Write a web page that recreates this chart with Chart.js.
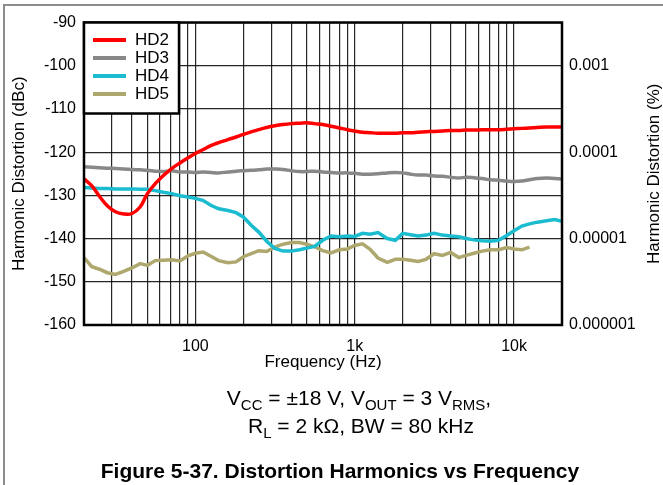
<!DOCTYPE html>
<html>
<head>
<meta charset="utf-8">
<script src="https://cdn.jsdelivr.net/npm/chart.js@4.4.1/dist/chart.umd.min.js"></script>
<style>
  body { margin: 0; background: #fff; }
  canvas { position: absolute; left: 0; top: 0; }
</style>
</head>
<body>
<canvas id="grafico" width="663" height="485"></canvas>
<script>
// frequency grid (Hz), 1/20 decade steps
const freqs = [20, 22.4, 25, 28, 31.5, 35.5, 40, 45, 50, 56,
  63, 71, 80, 90, 100, 112, 125, 140, 160, 180,
  200, 224, 250, 280, 315, 355, 400, 450, 500, 560,
  630, 710, 800, 900, 1000, 1120, 1250, 1400, 1600, 1800,
  2000, 2240, 2500, 2800, 3150, 3550, 4000, 4500, 5000, 5600,
  6300, 7100, 8000, 9000, 10000, 11200, 12500, 14000, 16000, 18000,
  20000];

const hd2 = [-126.2, -127.8, -130.2, -132.4, -133.8, -134.3, -134.2, -132.7, -129.6, -127.3,
  -125.4, -123.8, -122.5, -121.3, -120.3, -119.4, -118.5, -117.8, -117.1, -116.5,
  -115.9, -115.3, -114.8, -114.3, -113.9, -113.6, -113.4, -113.3, -113.2, -113.4,
  -113.6, -114.0, -114.4, -114.8, -115.1, -115.4, -115.5, -115.6, -115.6, -115.6,
  -115.5, -115.5, -115.4, -115.3, -115.2, -115.1, -115.0, -115.0, -114.9, -114.9,
  -114.8, -114.8, -114.8, -114.7, -114.6, -114.5, -114.4, -114.3, -114.2, -114.2,
  -114.2];

const hd3 = [-123.4, -123.5, -123.6, -123.7, -123.8, -123.9, -124.0, -124.1, -124.2, -124.4,
  -124.5, -124.3, -124.6, -124.6, -124.7, -124.6, -124.7, -124.8, -124.6, -124.4,
  -124.3, -124.2, -124.1, -123.9, -123.9, -124.0, -124.3, -124.5, -124.5, -124.4,
  -124.6, -124.7, -124.8, -124.8, -124.9, -125.1, -125.1, -125.0, -124.8, -124.7,
  -124.8, -125.1, -125.3, -125.3, -125.5, -125.6, -125.8, -126.0, -125.8, -125.9,
  -126.1, -126.4, -126.5, -126.7, -126.8, -126.7, -126.4, -126.1, -126.0, -126.1,
  -126.2];

const hd4 = [-128.2, -128.3, -128.4, -128.4, -128.5, -128.5, -128.5, -128.6, -128.6, -128.9,
  -129.3, -129.6, -130.1, -130.4, -130.7, -131.2, -132.3, -133.1, -133.5, -134.0,
  -135.0, -136.9, -138.5, -140.6, -142.3, -142.9, -142.9, -142.6, -142.2, -141.8,
  -140.4, -139.4, -139.6, -139.4, -139.5, -138.8, -139.0, -138.6, -140.0, -140.4,
  -138.8, -139.1, -139.4, -139.2, -138.8, -139.2, -139.4, -139.6, -140.0, -140.3,
  -140.5, -140.6, -140.4, -139.3, -138.2, -137.1, -136.6, -136.2, -135.9, -135.6,
  -136.0];

const hd5 = [-144.4, -146.5, -147.1, -147.9, -148.3, -147.6, -146.8, -145.8, -146.2, -145.1,
  -145.0, -144.9, -145.2, -144.0, -143.4, -143.1, -144.1, -145.1, -145.6, -145.4,
  -144.2, -143.5, -142.8, -143.0, -142.0, -141.3, -140.9, -140.9, -141.3, -141.9,
  -142.8, -143.3, -142.6, -142.4, -141.6, -141.2, -142.5, -144.5, -145.5, -144.8,
  -144.8, -145.0, -145.3, -144.8, -143.5, -143.9, -143.2, -144.4, -143.9, -143.4,
  -142.9, -142.6, -142.6, -142.1, -142.4, -142.6, -142.0, null, null, null,
  null];

const seriesNames = ['HD2', 'HD3', 'HD4', 'HD5'];
const seriesColors = ['#ff0000', '#888888', '#1bbccf', '#aea86e'];

// x grid lines and labelled ticks
const gridFreqs = [20, 30, 40, 50, 60, 70, 80, 90,
  100, 200, 300, 400, 500, 600, 700, 800, 900,
  1000, 2000, 3000, 4000, 5000, 6000, 7000, 8000, 9000,
  10000, 20000];
const xLabelValues = [100, 1000, 10000];
const xLabels = ['100', '1k', '10k'];

// right axis (%)
const rightTickDb = [-100, -120, -140, -160];
const rightTickLabels = ['0.001', '0.0001', '0.00001', '0.000001'];

const fonte = '"Liberation Sans", Arial, sans-serif';
Chart.defaults.font.family = fonte;
Chart.defaults.color = '#000';

function pontos(ys) {
    const out = [];
    for (let i = 0; i < freqs.length; i++) {
        if (ys[i] !== null) out.push({ x: freqs[i], y: ys[i] });
    }
    return out;
}

// draws text with subscripts, centred on cx
function textoComIndice(ctx, partes, cx, base, size) {
    const subSize = Math.round(size * 0.72);
    let w = 0;
    partes.forEach(p => {
        ctx.font = (p[1] ? subSize : size) + 'px ' + fonte;
        w += ctx.measureText(p[0]).width;
    });
    let x = cx - w / 2;
    ctx.textAlign = 'left';
    ctx.textBaseline = 'alphabetic';
    partes.forEach(p => {
        ctx.font = (p[1] ? subSize : size) + 'px ' + fonte;
        ctx.fillText(p[0], x, p[1] ? base + 5 : base);
        x += ctx.measureText(p[0]).width;
    });
}

const extras = {
    id: 'extras',
    afterDraw(chart) {
        const ctx = chart.ctx;
        const a = chart.chartArea;
        ctx.save();

        // plot border
        ctx.strokeStyle = '#000';
        ctx.lineWidth = 2.5;
        ctx.strokeRect(a.left, a.top, a.right - a.left, a.bottom - a.top);

        // legend box
        ctx.fillStyle = '#fff';
        ctx.fillRect(a.left, a.top, 95, 91);
        ctx.strokeRect(a.left, a.top, 95, 91);
        chart.data.datasets.forEach((ds, i) => {
            const y = 40 + i * 18;
            ctx.strokeStyle = ds.borderColor;
            ctx.lineWidth = 4;
            ctx.beginPath();
            ctx.moveTo(93, y);
            ctx.lineTo(126, y);
            ctx.stroke();
            ctx.fillStyle = '#000';
            ctx.font = '17px ' + fonte;
            ctx.textAlign = 'left';
            ctx.textBaseline = 'middle';
            ctx.fillText(ds.label, 135, y + 0.5);
        });

        // axis titles
        ctx.fillStyle = '#000';
        ctx.font = '17px ' + fonte;
        ctx.textAlign = 'center';
        ctx.textBaseline = 'middle';
        const cy = (a.top + a.bottom) / 2;
        ctx.save();
        ctx.translate(19, cy);
        ctx.rotate(-Math.PI / 2);
        ctx.fillText('Harmonic Distortion (dBc)', 0, 0);
        ctx.restore();
        ctx.save();
        ctx.translate(654, cy);
        ctx.rotate(-Math.PI / 2);
        ctx.fillText('Harmonic Distortion (%)', 0, 0);
        ctx.restore();
        ctx.textBaseline = 'alphabetic';
        ctx.fillText('Frequency (Hz)', 323, 367);

        // conditions and caption
        textoComIndice(ctx, [['V', 0], ['CC', 1], [' = ±18 V, V', 0], ['OUT', 1], [' = 3 V', 0], ['RMS', 1], [',', 0]], 359, 405, 21);
        textoComIndice(ctx, [['R', 0], ['L', 1], [' = 2 kΩ, BW = 80 kHz', 0]], 361, 433, 21);
        ctx.font = 'bold 21px ' + fonte;
        ctx.textAlign = 'center';
        ctx.textBaseline = 'alphabetic';
        ctx.fillText('Figure 5-37. Distortion Harmonics vs Frequency', 340, 478);

        // outer frame (top and left)
        ctx.strokeStyle = '#8c8c8c';
        ctx.lineWidth = 2;
        ctx.beginPath();
        ctx.moveTo(4, 485);
        ctx.lineTo(4, 5);
        ctx.lineTo(663, 5);
        ctx.stroke();

        ctx.restore();
    }
};

const gradeCor = 'rgba(0,0,0,0.85)';

new Chart(document.getElementById('grafico'), {
    type: 'line',
    data: {
        datasets: [hd2, hd3, hd4, hd5].map((ys, i) => ({
            label: seriesNames[i],
            data: pontos(ys),
            borderColor: seriesColors[i],
            borderWidth: 3.5,
            pointRadius: 0,
            tension: i < 2 ? 0.4 : 0,
            fill: false
        }))
    },
    options: {
        responsive: false,
        animation: false,
        devicePixelRatio: 1,
        layout: { padding: { top: 22.5, left: 0, right: 0, bottom: 0 } },
        plugins: { legend: { display: false }, tooltip: { enabled: false } },
        scales: {
            x: {
                type: 'logarithmic',
                position: 'bottom',
                min: 20,
                max: 20000,
                afterFit: s => { s.height = 160; },
                afterBuildTicks: s => { s.ticks = gridFreqs.map(v => ({ value: v })); },
                grid: { color: gradeCor, lineWidth: 1.2, drawTicks: false },
                border: { display: false },
                ticks: {
                    autoSkip: false,
                    maxRotation: 0,
                    padding: 12,
                    font: { size: 16 },
                    color: '#000',
                    callback: v => {
                        const k = xLabelValues.indexOf(v);
                        return k >= 0 ? xLabels[k] : '';
                    }
                }
            },
            y: {
                type: 'linear',
                position: 'left',
                min: -160,
                max: -90,
                afterFit: s => { s.width = 84; },
                grid: { color: gradeCor, lineWidth: 1.2, drawTicks: false },
                border: { display: false },
                ticks: { stepSize: 10, padding: 8, font: { size: 16 }, color: '#000' }
            },
            y2: {
                type: 'linear',
                position: 'right',
                min: -160,
                max: -90,
                afterFit: s => { s.width = 101; },
                afterBuildTicks: s => { s.ticks = rightTickDb.map(v => ({ value: v })); },
                grid: { display: false, drawTicks: false },
                border: { display: false },
                ticks: {
                    padding: 7,
                    font: { size: 16 },
                    color: '#000',
                    callback: v => rightTickLabels[rightTickDb.indexOf(v)]
                }
            }
        }
    },
    plugins: [extras]
});
</script>
</body>
</html>
